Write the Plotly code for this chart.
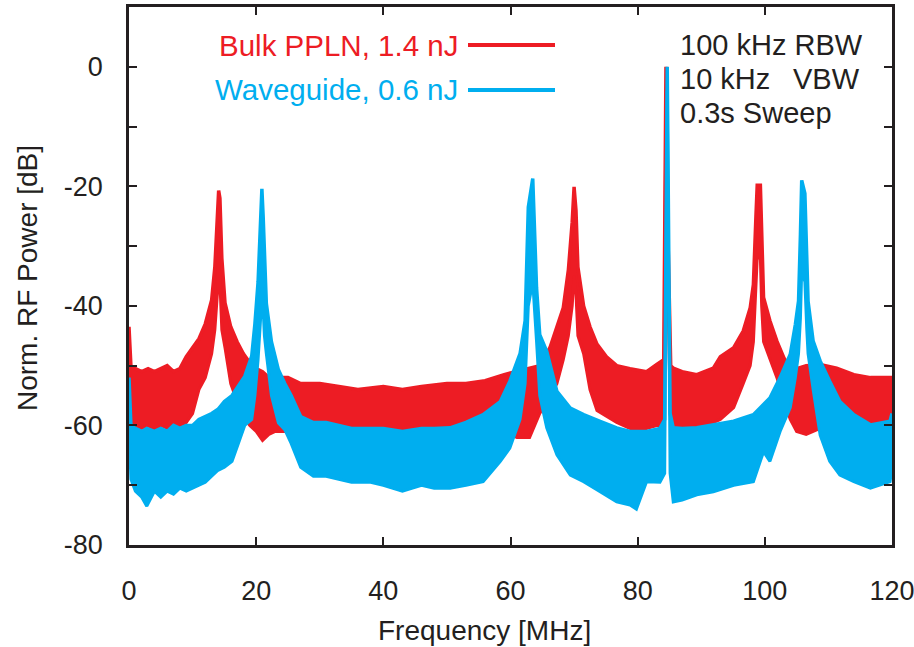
import plotly.graph_objects as go

# ---------------- data ----------------
# Bulk PPLN, 1.4 nJ : frequency [MHz], upper / lower envelope of the noisy trace [dB]
red_f = [0.0, 0.3, 1, 2, 3, 4, 5, 6, 7, 8, 9, 10, 11, 12, 13, 13.5, 13.9, 14.1, 14.3, 14.6, 15.1,
         16, 17, 18, 19, 20, 21, 22, 23, 24, 25, 27, 30, 33, 36, 40, 43, 46, 50, 53, 56, 59, 61, 63,
         64.6, 66.2, 67.3, 68.3, 69.1, 69.7, 70.0, 70.3, 70.6, 71.5, 72.5, 73.6, 75.1, 76.7, 78.8,
         81.4, 83, 84.1, 84.45, 84.8, 85.2, 85.6, 87, 89.3, 91.9, 93, 95.1, 96.6, 97.7, 98.2, 98.6,
         98.8, 99.3, 99.5, 99.8, 100.8, 101.9, 103, 104, 105, 106.5, 108.7, 111.3, 114, 116.6, 119.7, 120]
red_hi = [-43.5, -50, -50.5, -51, -50.5, -51, -50.5, -50, -51, -50.5, -48.5, -47, -45.5, -43, -39, -33.5, -26, -20.7, -22, -32, -39.5,
          -43.5, -46, -48, -49.5, -50.5, -51, -52, -52, -52, -52, -53, -53, -53.5, -54, -53.5, -54, -53.5, -53, -53, -52.5, -51.5, -51, -50.5,
          -50, -47, -43.5, -40.3, -34, -26, -20.1, -24, -33.5, -40, -43.5, -46.4, -48.5, -50, -50.5,
          -51, -49.8, -49, 0, -30, -50, -50.4, -51, -51.5, -50.4, -48.5, -47, -44.2, -40.3, -36.4, -25,
          -19.8, -19.8, -28, -38.6, -42.5, -45.9, -48.7, -50.4, -50.5, -50, -49.8, -50.4, -51.5, -52, -52, -52]
red_lo = [-52, -59, -60, -60.5, -60, -61, -60, -60.5, -60, -60, -59.5, -58, -54, -52, -48, -44, -38, -33, -36, -44, -47,
          -53, -56, -58.5, -60, -61, -62.5, -61.5, -61, -61, -61, -61, -61.5, -61.5, -62, -61.5, -62, -61.5, -60.5, -60.5, -60.5, -61, -62, -62,
          -58, -55, -53, -49, -45, -40, -35, -38, -45, -48, -54, -57.5, -58.5, -59.5, -60.5,
          -60.5, -60, -60, -6, -40, -61, -61, -60.5, -60, -59.5, -59, -57, -53, -50, -46, -38,
          -32, -32, -40, -46, -49, -52, -56, -59, -61, -61.5, -60.5, -60, -60.5, -60, -60, -59]

# Waveguide, 0.6 nJ
blue_f = [0.0, 0.3, 1, 2, 2.8, 4, 5, 6, 7, 8, 9, 10, 11, 12, 13, 14, 15, 16.2, 17.2, 18.2, 19.3, 19.8,
          20.3, 20.7, 20.9, 21.1, 21.3, 21.6, 22.4, 23.5, 24.5, 25.5, 27, 29, 31, 33, 35, 38, 40, 43, 46,
          48, 50.5, 53, 55.7, 58.4, 59.9, 61.5, 62.3, 62.8, 63.5, 64.1, 64.6, 65.7, 67.3, 69.4, 71.5,
          74.1, 76.7, 78.8, 79.8, 81.4, 83.5, 84.25, 84.65, 85.1, 85.6, 87, 89.3, 91.9, 95.1, 98.2, 99.8,
          100.8, 102.4, 104, 104.8, 105.3, 105.6, 105.8, 106.3, 106.6, 106.8, 107.6, 108.7, 110.2, 111.8,
          114, 116.6, 119.7, 120]
blue_hi = [-52, -60, -60.5, -61, -60.5, -61, -60.5, -61, -60, -60.5, -60, -60, -59, -58.5, -58, -57.3, -56, -55, -53.5, -51.8, -48.4, -43,
           -36, -25, -20.4, -25, -30.6, -39.6, -46, -50.7, -53, -55, -58.5, -59.5, -59.5, -60, -60.5, -60.5, -60.5, -61, -60.5,
           -60.5, -60.4, -59.5, -58.2, -56, -52.6, -48, -42.5, -23.5, -18.7, -37, -44.8, -47.6, -54.3, -57.1, -58.2,
           -59.3, -60.4, -61, -61, -61, -60.5, -59, 0, -58, -60.4, -60.5, -60.4, -59.9, -59.3, -58.2, -56.5,
           -55.4, -52, -48.1, -43.1, -39.2, -28, -19, -21.2, -30, -39.2, -45.9, -49.2, -52.6, -56,
           -58.2, -59.9, -59.3, -58]
blue_lo = [-60, -69, -71, -72, -73.5, -71, -72, -71, -71.5, -70.5, -71, -70.5, -70, -69.5, -68.5, -67.5, -67, -66, -63, -60, -59, -55,
           -49, -42, -36, -40, -45, -48, -55, -59.6, -60.7, -63, -67, -68.5, -68.5, -69, -69.5, -69.5, -70, -71, -70,
           -70.5, -70.5, -70, -69.4, -66, -63.8, -59, -53, -40, -36, -46, -55, -60.4, -64.9, -68.3, -69.4,
           -71.1, -72.8, -73.3, -74, -69.4, -69.5, -68, -4, -68, -72.8, -72.5, -71.6, -71.1, -70, -69.4, -64.4,
           -66, -61, -57, -52, -48, -42, -34, -36, -44, -48, -54, -61.6, -66, -68.3,
           -69.4, -70.5, -69.4, -67]

x_ticks = [0, 20, 40, 60, 80, 100, 120]
x_labels = ["0", "20", "40", "60", "80", "100", "120"]
y_ticks = [-80, -60, -40, -20, 0]
y_labels = ["-80", "-60", "-40", "-20", "0"]

RED = "#ED1C24"
BLUE = "#00AEEF"
INK = "#231F20"
FONT = "Liberation Sans, Arial, sans-serif"

# plot area in pixels (914 x 647 page)
L, R, T, B = 129, 892, 7, 545
def px(x):
    return (x - L) / (R - L)
def py(y):
    return (B - y) / (B - T)

fig = go.Figure()
for f, hi, lo, col, name in [(red_f, red_hi, red_lo, RED, "Bulk PPLN, 1.4 nJ"),
                             (blue_f, blue_hi, blue_lo, BLUE, "Waveguide, 0.6 nJ")]:
    fig.add_trace(go.Scatter(x=f, y=lo, mode="lines", line=dict(color=col, width=3),
                             showlegend=False, hoverinfo="skip", name=name))
    fig.add_trace(go.Scatter(x=f, y=hi, mode="lines", line=dict(color=col, width=3.5),
                             fill="tonexty", fillcolor=col, showlegend=False, name=name))

axis_common = dict(showgrid=False, zeroline=False, showline=True, linecolor=INK, linewidth=2.5,
                   mirror="ticks", ticks="inside", ticklen=8, tickwidth=2, tickcolor=INK,
                   automargin=False, ticklabeloverflow="allow",
                   tickfont=dict(family=FONT, size=27, color=INK))
fig.update_xaxes(range=[0, 120], tickvals=x_ticks, ticktext=x_labels, ticklabelstandoff=20,
                 **axis_common)
fig.update_yaxes(range=[-80, 10], tickvals=y_ticks, ticktext=y_labels, ticklabelstandoff=18,
                 minor=dict(dtick=10, tick0=0, ticks="inside", ticklen=8, tickwidth=2, tickcolor=INK),
                 **axis_common)

ann = []
ann.append(dict(text="Frequency [MHz]", x=px(484), y=py(630), xref="paper", yref="paper",
                showarrow=False, xanchor="center", yanchor="middle",
                font=dict(family=FONT, size=28, color=INK)))
ann.append(dict(text="Norm. RF Power [dB]", x=px(27), y=py(278), xref="paper", yref="paper",
                showarrow=False, xanchor="center", yanchor="middle", textangle=-90,
                font=dict(family=FONT, size=28, color=INK)))
# legend
ann.append(dict(text="Bulk PPLN, 1.4 nJ", x=px(460), y=py(46), xref="paper", yref="paper",
                showarrow=False, xanchor="right", yanchor="middle",
                font=dict(family=FONT, size=29.5, color=RED)))
ann.append(dict(text="Waveguide, 0.6 nJ", x=px(460), y=py(89), xref="paper", yref="paper",
                showarrow=False, xanchor="right", yanchor="middle",
                font=dict(family=FONT, size=29.5, color=BLUE)))
# instrument settings
for txt, xx, yy, anc in [("100 kHz RBW", 678, 45, "left"), ("10 kHz", 678, 79, "left"),
                         ("VBW", 862, 79, "right"), ("0.3s Sweep", 678, 113, "left")]:
    ann.append(dict(text=txt, x=px(xx), y=py(yy), xref="paper", yref="paper", showarrow=False,
                    xanchor=anc, yanchor="middle", font=dict(family=FONT, size=29, color=INK)))

shapes = [
    dict(type="line", xref="paper", yref="paper", x0=px(468), x1=px(555), y0=py(45), y1=py(45),
         line=dict(color=RED, width=4)),
    dict(type="line", xref="paper", yref="paper", x0=px(468), x1=px(555), y0=py(90), y1=py(90),
         line=dict(color=BLUE, width=4)),
]

fig.update_layout(width=914, height=647, margin=dict(l=L, r=914 - R, t=T, b=647 - B),
                  paper_bgcolor="white", plot_bgcolor="white", showlegend=False,
                  annotations=ann, shapes=shapes, font=dict(family=FONT))

fig.write_html("out.html", config={"displayModeBar": False},
               post_script="document.body.style.margin='0px';document.body.style.padding='0px';")
